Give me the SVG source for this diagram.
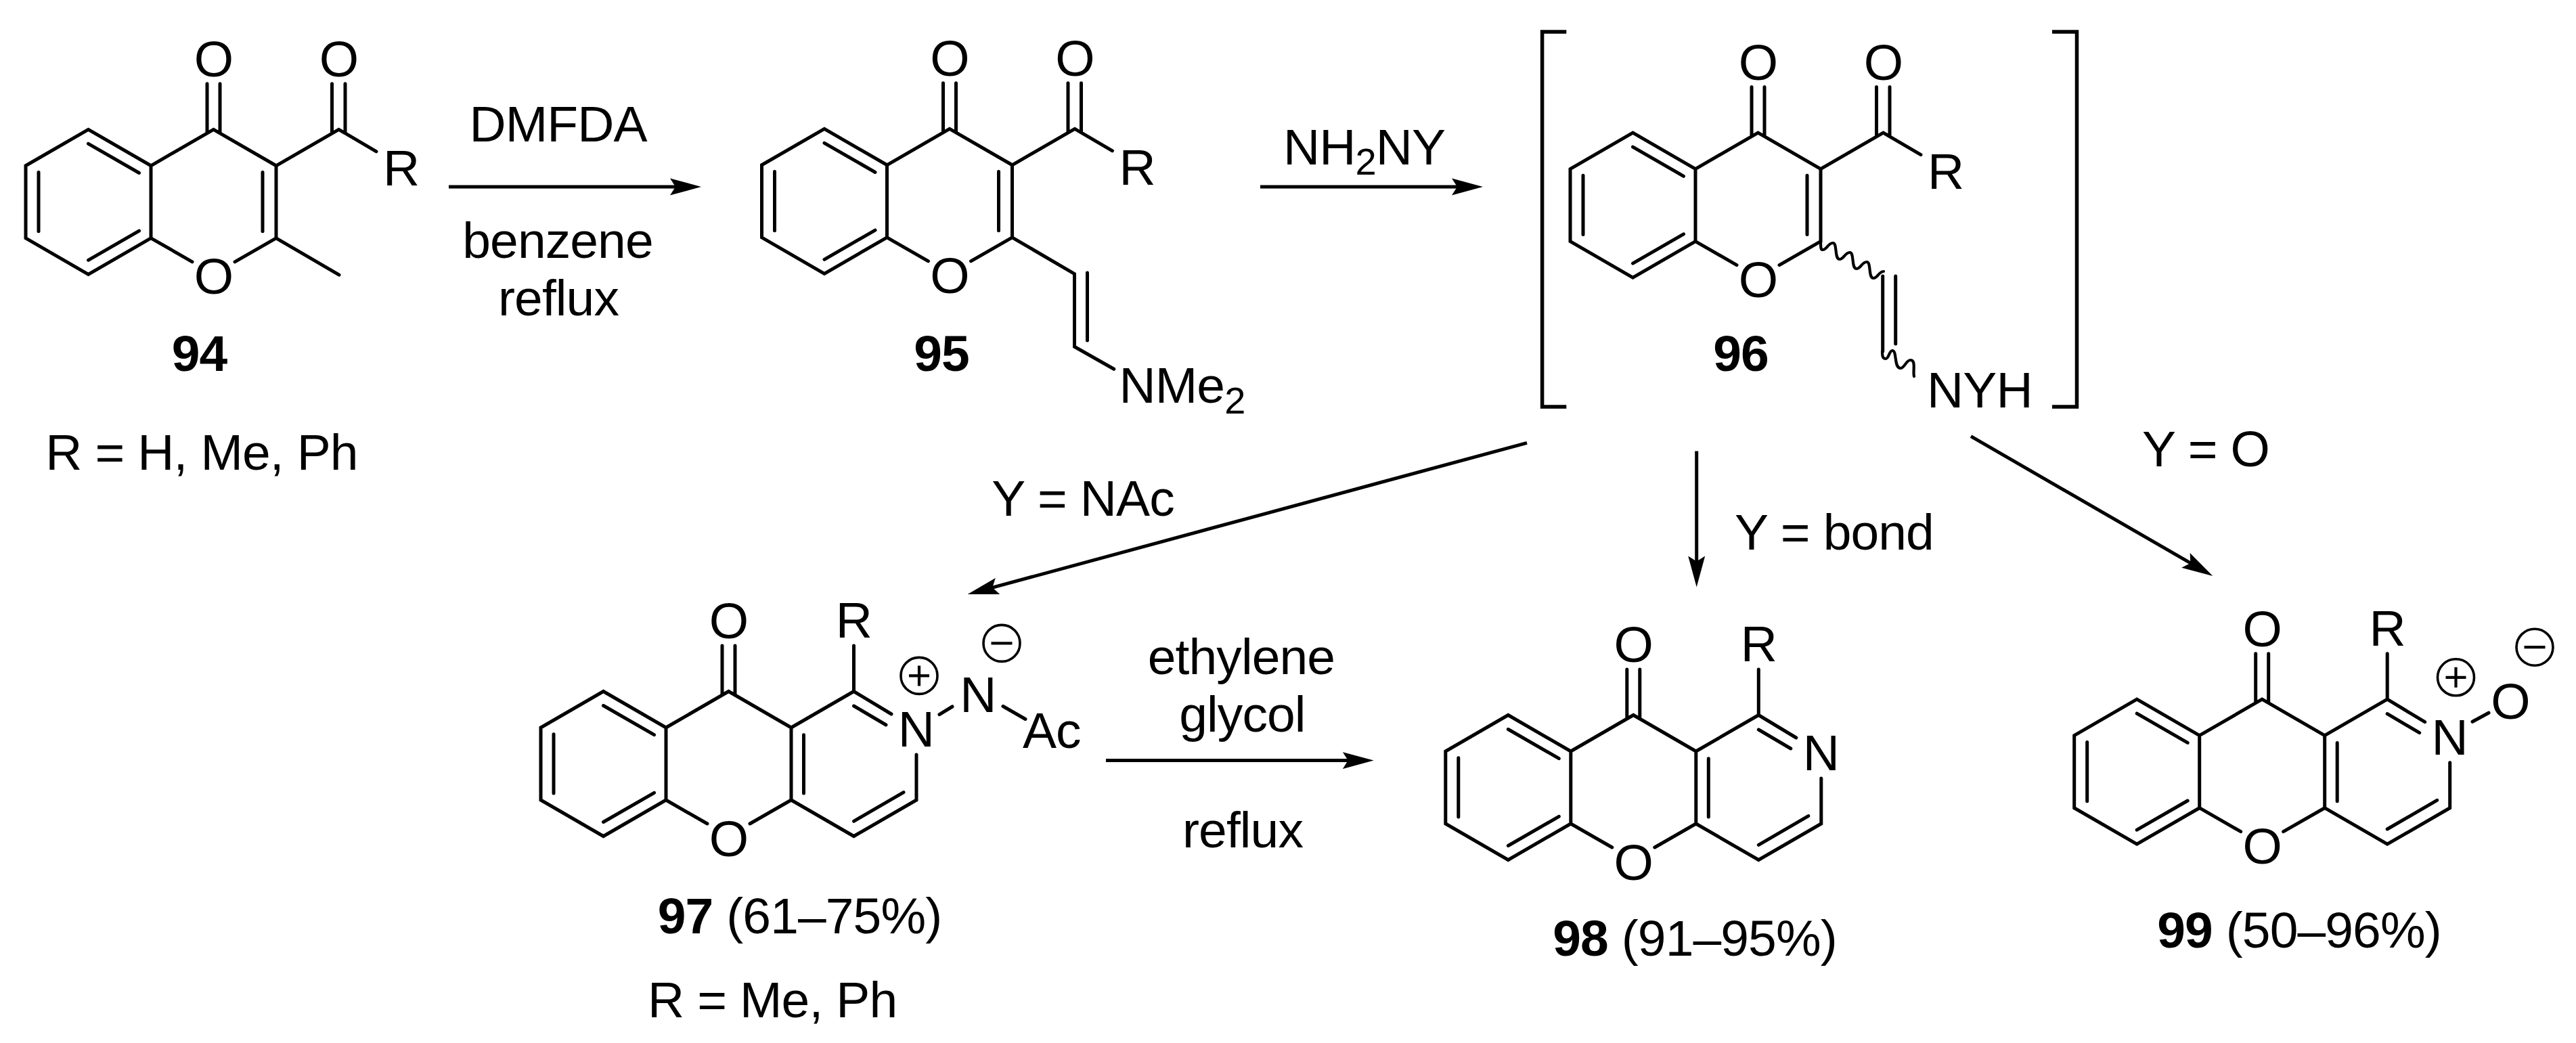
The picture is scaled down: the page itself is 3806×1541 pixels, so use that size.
<svg xmlns="http://www.w3.org/2000/svg" xmlns:xlink="http://www.w3.org/1999/xlink" width="3806" height="1541" viewBox="0 0 3806 1541">
<style>
text{font-family:"Liberation Sans",Arial,sans-serif;font-size:75px;letter-spacing:-0.9px;fill:#000}
.c{text-anchor:middle}
.b{font-weight:bold}
.sub{font-size:56px}
.bond{fill:none;stroke:#000;stroke-width:5;stroke-linecap:round;stroke-linejoin:miter}
.wavy{fill:none;stroke:#000;stroke-width:4.2;stroke-linecap:round}
.arrow{fill:none;stroke:#000;stroke-width:5;marker-end:url(#head)}
.ring{fill:none;stroke:#000;stroke-width:3.6}
.sign{fill:none;stroke:#000;stroke-width:4.2}
.brk{fill:none;stroke:#000;stroke-width:5.5}
</style>
<defs>
<marker id="head" markerUnits="userSpaceOnUse" markerWidth="46" markerHeight="26" viewBox="0 0 46 26" refX="10" refY="13" orient="auto"><path d="M46 13L0 0.5L8 13L0 25.5Z" fill="#000"/></marker>
<path id="core" class="bond" d="M-92.5 -53.5L-185 0V107L-92.5 160.5L0 107V0ZM0 0L92.5 -53.5L185 0V107L124 142M0 107L61 142M-166 9.7V97M-92.5 -32.5L-17.5 10.7M-92.5 139.5L-17.5 96.3M83 -121V-49M102 -121V-49"/>
<path id="acyl" class="bond" d="M165 9.7V97M185 0L277.5 -53.5L333 -21M267.5 -121V-48M287 -121V-48"/>
<path id="pyr" class="bond" d="M203.5 10.7V97M185 0L277.5 -53.5L333 -20M277.5 -32L325 -4M277.5 -53.5V-121M370 40V107L277.5 160.5L185 107M351 95.6L277.5 138.3"/>
<g id="plus"><circle class="ring" r="27"/><path class="sign" d="M-15 0H15M0 -15V15"/></g>
<g id="minus"><circle class="ring" r="27"/><path class="sign" d="M-15.5 0H15.5"/></g>
</defs>

<g id="connectors">
<path class="arrow" d="M663 276H1000"/>
<path class="arrow" d="M1862 276H2155"/>
<path class="arrow" d="M2256 654.3L1464.4 868.6"/>
<path class="arrow" d="M2506.7 666.5V831.4"/>
<path class="arrow" d="M2912 644.6L3238.1 832.9"/>
<path class="arrow" d="M1634 1123.6H1993.7"/>
</g>

<g id="reagents">
<text class="c" x="824.6" y="209.4">DMFDA</text>
<text class="c" x="824" y="380.5">benzene</text>
<text class="c" x="825" y="466.3">reflux</text>
<text x="1896" y="243.3">NH<tspan class="sub" dy="15">2</tspan><tspan dy="-15">NY</tspan></text>
<text class="c" x="1600" y="762">Y = NAc</text>
<text class="c" x="2710" y="811.5">Y = bond</text>
<text x="3165" y="689">Y = O</text>
<text class="c" x="1834" y="996">ethylene</text>
<text class="c" x="1835.4" y="1081">glycol</text>
<text class="c" x="1836" y="1251.7">reflux</text>
</g>

<g id="m94">
<g transform="translate(223 244.8)">
<use xlink:href="#core" href="#core"/><use xlink:href="#acyl" href="#acyl"/>
<path class="bond" d="M185 107L278 161.4"/>
<text class="c" x="92.5" y="-132">O</text><text class="c" x="277.5" y="-132">O</text>
<text class="c" x="92.5" y="189.5">O</text><text x="343" y="29">R</text>
</g>
<text class="c b" x="294.6" y="547.7">94</text>
<text class="c" x="298" y="694">R = H, Me, Ph</text>
</g>

<g id="m95">
<g transform="translate(1310.5 243.8)">
<use xlink:href="#core" href="#core"/><use xlink:href="#acyl" href="#acyl"/>
<text class="c" x="92.5" y="-132">O</text><text class="c" x="277.5" y="-132">O</text>
<text class="c" x="92.5" y="189.5">O</text><text x="343" y="29">R</text>
</g>
<path class="bond" d="M1495.5 350.8L1587.5 404.7V512.3L1645.8 545.3M1606.5 403V503"/>
<text x="1653.5" y="595">NMe<tspan class="sub" dy="15.7">2</tspan></text>
<text class="c b" x="1391" y="547.7">95</text>
</g>

<g id="m96">
<path class="brk" d="M2314.3 47H2278.6V601H2314.3M3032 47H3068.5V601H3032"/>
<g transform="translate(2505 249.6)">
<use xlink:href="#core" href="#core"/><use xlink:href="#acyl" href="#acyl"/>
<text class="c" x="92.5" y="-132">O</text><text class="c" x="277.5" y="-132">O</text>
<text class="c" x="92.5" y="189.5">O</text><text x="343" y="29">R</text>
</g>
<path class="wavy" d="M2690 357C2690 365 2690 369 2693 369c6 0 8 -10 15 -10c7 0 2 24 10 24c6 0 8 -10 15 -10c7 0 2 24 10 24c6 0 8 -10 15 -10c7 0 2 24 10 24c6 0 8 -10 15 -10"/>
<path class="wavy" d="M2781 519C2781 527 2782 530 2786 530c5 0 5 -12 10 -12c7 0 2 26 12 26c6 0 8 -12 15 -12c8 0 3 18 5 24"/>
<path class="bond" d="M2781.7 408V519M2800.7 408V508"/>
<text x="2847" y="601.5">NYH</text>
<text class="c b" x="2572" y="547.7">96</text>
</g>

<g id="m97">
<g transform="translate(984 1075)">
<use xlink:href="#core" href="#core"/><use xlink:href="#pyr" href="#pyr"/>
<text class="c" x="92.5" y="-132">O</text><text class="c" x="277.5" y="-133">R</text>
<text class="c" x="92.5" y="189.5">O</text><text class="c" x="369.5" y="28">N</text>
</g>
<use xlink:href="#plus" href="#plus" x="1358" y="998.4"/>
<use xlink:href="#minus" href="#minus" x="1480" y="950.4"/>
<text class="c" x="1445" y="1051.8">N</text>
<path class="bond" d="M1388 1055.6L1407 1044M1482 1043.5L1515 1062.5"/>
<text x="1511" y="1105">Ac</text>
<text class="c" x="1181.5" y="1379.3"><tspan class="b">97</tspan> (61–75%)</text>
<text x="957" y="1503">R = Me, Ph</text>
</g>

<g id="m98">
<g transform="translate(2320.8 1110)">
<use xlink:href="#core" href="#core"/><use xlink:href="#pyr" href="#pyr"/>
<text class="c" x="92.5" y="-132">O</text><text class="c" x="277.5" y="-133">R</text>
<text class="c" x="92.5" y="189.5">O</text><text class="c" x="369.5" y="28">N</text>
</g>
<text class="c" x="2504" y="1411.9"><tspan class="b">98</tspan> (91–95%)</text>
</g>

<g id="m99">
<g transform="translate(3249.7 1086.7)">
<use xlink:href="#core" href="#core"/><use xlink:href="#pyr" href="#pyr"/>
<text class="c" x="92.5" y="-132">O</text><text class="c" x="277.5" y="-133">R</text>
<text class="c" x="92.5" y="189.5">O</text><text class="c" x="369.5" y="28">N</text>
</g>
<use xlink:href="#plus" href="#plus" x="3628.5" y="1000.8"/>
<use xlink:href="#minus" href="#minus" x="3745" y="956.2"/>
<text class="c" x="3709" y="1062">O</text>
<path class="bond" d="M3653 1066.3L3677 1053.2"/>
<text class="c" x="3397" y="1400.2"><tspan class="b">99</tspan> (50–96%)</text>
</g>
</svg>
